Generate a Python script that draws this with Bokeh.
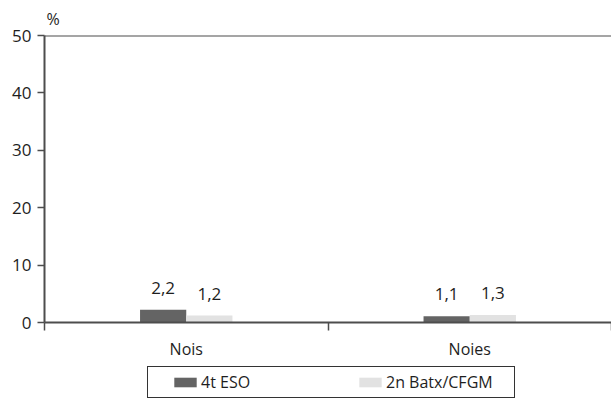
from bokeh.plotting import figure
from bokeh.layouts import column
from bokeh.models import (Range1d, FixedTicker, Span, Legend, LegendItem,
                          Title, ColumnDataSource)
from bokeh.core.properties import value
from bokeh.embed import file_html
from bokeh.resources import INLINE
import numpy as np

categories = ["Nois", "Noies"]
series_names = ["4t ESO", "2n Batx/CFGM"]
eso_values = [2.2, 1.1]
batx_values = [1.2, 1.3]
y_ticks = [0, 10, 20, 30, 40, 50]

colors = ["#646464", "#e2e2e2"]
FONT = "Open Sans"
TXT = "#1e1e1e"
AX = "#4d4d4d"

bar_w = 0.163
centers = np.arange(len(categories)) + 0.5

p = figure(width=611, height=362, output_backend="svg", toolbar_location=None,
           x_range=Range1d(0, len(categories)), y_range=Range1d(0, 50),
           min_border_left=44, min_border_right=0, min_border_top=33,
           min_border_bottom=40)
p.outline_line_color = None
p.xgrid.visible = False
p.ygrid.visible = False

p.title = Title(text="%", align="left", offset=2, standoff=11,
                text_font=FONT, text_font_size="16px", text_font_style="normal",
                text_color=TXT)

src1 = ColumnDataSource(dict(x=centers - bar_w / 2, top=eso_values,
                             lab=[f"{v:.1f}".replace(".", ",") for v in eso_values]))
src2 = ColumnDataSource(dict(x=centers + bar_w / 2, top=batx_values,
                             lab=[f"{v:.1f}".replace(".", ",") for v in batx_values]))

p.vbar(x="x", top="top", bottom=0, width=bar_w, source=src1,
       fill_color=colors[0], line_color=None)
p.vbar(x="x", top="top", bottom=0, width=bar_w, source=src2,
       fill_color=colors[1], line_color=None)

for s in (src1, src2):
    p.text(x="x", y="top", text="lab", source=s, y_offset=-22,
           text_align="center", text_baseline="alphabetic",
           text_font=value(FONT), text_font_size="17px", text_color=TXT)

p.add_layout(Span(location=50, dimension="width", line_color=AX, line_width=2))

# y axis
ya = p.yaxis[0]
ya.ticker = FixedTicker(ticks=y_ticks)
ya.axis_line_color = AX
ya.axis_line_width = 2
ya.major_tick_line_color = AX
ya.major_tick_line_width = 1.5
ya.major_tick_out = 7
ya.major_tick_in = 0
ya.minor_tick_line_color = None
ya.major_label_standoff = 6
ya.major_label_text_font = FONT
ya.major_label_text_font_size = "17px"
ya.major_label_text_color = TXT

# x axis
xa = p.xaxis[0]
xa.ticker = FixedTicker(ticks=list(centers), minor_ticks=list(range(len(categories) + 1)))
xa.major_label_overrides = {float(c): n for c, n in zip(centers, categories)}
xa.axis_line_color = AX
xa.axis_line_width = 2
xa.major_tick_line_color = None
xa.major_tick_out = 0
xa.major_tick_in = 0
xa.minor_tick_line_color = AX
xa.minor_tick_line_width = 1.5
xa.minor_tick_out = 8
xa.minor_tick_in = 0
xa.major_label_standoff = 7
xa.major_label_text_font = FONT
xa.major_label_text_font_size = "16px"
xa.major_label_text_color = TXT

# legend strip (its frame is aligned with the chart's frame by the column)
lg = figure(width=611, height=38, output_backend="svg", toolbar_location=None,
            x_range=Range1d(0, len(categories)), y_range=Range1d(-100, -50),
            x_axis_location=None, y_axis_location=None,
            min_border_left=0, min_border_right=0, min_border_top=0,
            min_border_bottom=0)
lg.outline_line_color = None
lg.xgrid.visible = False
lg.ygrid.visible = False
d1 = lg.vbar(x="x", top="top", bottom=0, width=bar_w, source=src1,
             fill_color=colors[0], line_color=None, visible=False)
d2 = lg.vbar(x="x", top="top", bottom=0, width=bar_w, source=src2,
             fill_color=colors[1], line_color=None, visible=False)

legend_kw = dict(items=[LegendItem(label=series_names[0], renderers=[d1]),
                        LegendItem(label=series_names[1], renderers=[d2])],
                 orientation="horizontal", location=(103, 2), padding=4,
                 spacing=31, glyph_width=28, glyph_height=12, label_height=12,
                 label_width=124, label_standoff=2,
                 border_line_color="#333333", border_line_width=1.2,
                 border_line_alpha=1, background_fill_alpha=0, margin=0,
                 label_text_font=FONT, label_text_font_size="16px",
                 label_text_color=TXT)
if "title_location" in Legend.properties():
    legend_kw.update(title=" ", title_location="left", title_standoff=4)
lg.add_layout(Legend(**legend_kw), "center")

layout = column(p, lg, spacing=0)
open("out.html", "w").write(file_html(layout, INLINE))
